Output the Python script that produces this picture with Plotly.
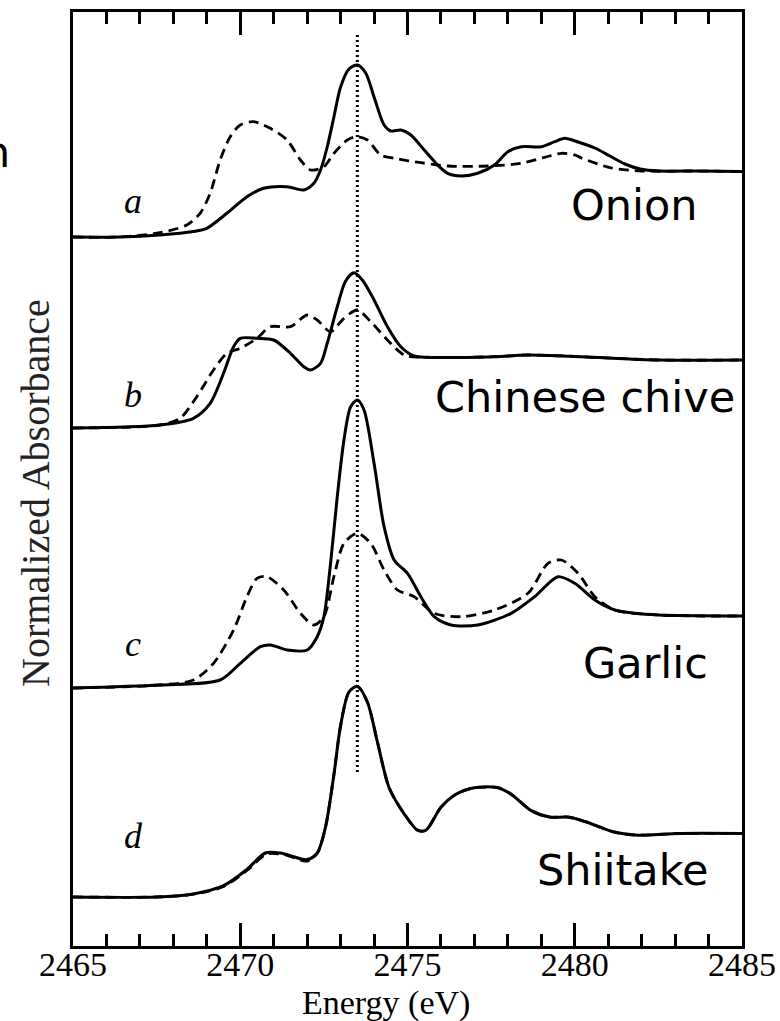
import plotly.graph_objects as go

# ---------------- data ----------------
# energies (eV) and normalized absorbance above each spectrum's own baseline
onion_E_solid = [2465.0, 2466.4, 2467.6, 2468.6, 2469.0, 2469.6, 2470.2, 2470.7, 2471.4, 2471.9,
                 2472.2, 2472.4, 2472.6, 2472.8, 2473.0, 2473.25, 2473.5, 2473.75, 2474.0,
                 2474.3, 2474.5, 2474.8, 2475.1, 2475.5, 2475.9, 2476.2, 2476.6, 2477.1, 2477.6,
                 2478.0, 2478.4, 2479.0, 2479.4, 2479.7, 2480.1, 2480.6, 2481.05, 2481.5, 2481.95,
                 2482.55, 2483.7, 2485.0]
onion_A_solid = [0.00, 0.00, 0.02, 0.055, 0.087, 0.237, 0.403, 0.487, 0.503, 0.47,
                 0.537, 0.67, 0.90, 1.20, 1.50, 1.68, 1.72, 1.64, 1.40,
                 1.12, 1.06, 1.07, 1.02, 0.87, 0.72, 0.637, 0.61, 0.637, 0.72,
                 0.853, 0.903, 0.903, 0.953, 0.987, 0.95, 0.89, 0.81, 0.73, 0.68,
                 0.66, 0.66, 0.655]
onion_E_dash = [2465.0, 2466.4, 2467.6, 2468.4, 2468.8, 2469.1, 2469.4, 2469.7, 2470.0, 2470.4,
                2470.9, 2471.4, 2471.8, 2472.1, 2472.5, 2472.8, 2473.2, 2473.5, 2473.8, 2474.2,
                2474.6, 2475.4, 2476.2, 2477.4, 2478.4, 2479.1, 2479.6, 2480.0, 2480.2, 2481.1,
                2482.0, 2483.5, 2485.0]
onion_A_dash = [0.00, 0.00, 0.043, 0.12, 0.237, 0.437, 0.77, 1.003, 1.12, 1.153,
                1.087, 0.97, 0.77, 0.67, 0.703, 0.837, 0.97, 1.003, 0.97, 0.82,
                0.787, 0.743, 0.71, 0.71, 0.737, 0.797, 0.837, 0.82, 0.79, 0.69,
                0.66, 0.66, 0.655]

chive_E_solid = [2465.0, 2467.6, 2468.6, 2469.1, 2469.5, 2469.8, 2470.0, 2470.5, 2471.0, 2471.5,
                 2471.9, 2472.1, 2472.4, 2472.6, 2472.9, 2473.15, 2473.4, 2473.65, 2474.0, 2474.4,
                 2474.8, 2475.2, 2475.6, 2477.6, 2478.6, 2480.2, 2482.5, 2485.0]
chive_A_solid = [0.00, 0.03, 0.097, 0.247, 0.547, 0.813, 0.897, 0.897, 0.88, 0.747,
                 0.613, 0.58, 0.647, 0.847, 1.213, 1.47, 1.553, 1.48, 1.28, 1.013,
                 0.813, 0.72, 0.707, 0.713, 0.73, 0.713, 0.68, 0.68]
chive_E_dash = [2465.0, 2467.6, 2468.2, 2468.7, 2469.2, 2469.6, 2470.0, 2470.5, 2470.9, 2471.5,
                2472.0, 2472.3, 2472.7, 2473.1, 2473.5, 2473.9, 2474.4, 2474.9, 2475.4, 2477.6,
                2478.6, 2480.2, 2482.5, 2485.0]
chive_A_dash = [0.00, 0.03, 0.097, 0.313, 0.58, 0.747, 0.797, 0.897, 1.013, 1.013,
                1.13, 1.08, 0.963, 1.097, 1.18, 1.063, 0.88, 0.73, 0.707, 0.713,
                0.73, 0.713, 0.68, 0.68]

garlic_E_solid = [2465.0, 2467.6, 2469.4, 2470.0, 2470.6, 2470.9, 2471.4, 2472.0, 2472.3, 2472.5,
                  2472.7, 2472.9, 2473.1, 2473.3, 2473.5, 2473.7, 2474.0, 2474.3, 2474.6, 2475.0,
                  2475.4, 2475.8, 2476.3, 2477.1, 2478.1, 2478.8, 2479.5, 2480.0, 2480.6, 2481.2,
                  2481.8, 2482.5, 2485.0]
garlic_A_solid = [0.00, 0.03, 0.08, 0.247, 0.413, 0.43, 0.38, 0.38, 0.513, 0.713,
                  1.247, 1.913, 2.48, 2.813, 2.88, 2.78, 2.247, 1.613, 1.28, 1.147,
                  0.913, 0.713, 0.63, 0.63, 0.747, 0.913, 1.113, 1.047, 0.88, 0.78,
                  0.747, 0.73, 0.72]
garlic_E_dash = [2465.0, 2467.6, 2468.6, 2469.2, 2469.8, 2470.2, 2470.5, 2470.8, 2471.3, 2471.8,
                 2472.2, 2472.5, 2472.8, 2473.1, 2473.5, 2473.9, 2474.3, 2474.7, 2475.2, 2475.8,
                 2476.6, 2477.6, 2478.6, 2479.2, 2479.6, 2480.1, 2480.6, 2481.2, 2482.5, 2485.0]
garlic_A_dash = [0.00, 0.03, 0.08, 0.247, 0.58, 0.913, 1.097, 1.113, 0.98, 0.747,
                 0.63, 0.713, 1.113, 1.447, 1.547, 1.447, 1.18, 0.98, 0.913, 0.747,
                 0.713, 0.78, 0.947, 1.247, 1.28, 1.147, 0.913, 0.78, 0.73, 0.72]

shiitake_E_solid = [2465.0, 2467.5, 2468.6, 2469.5, 2470.2, 2470.75, 2471.2, 2472.0, 2472.3, 2472.55,
                    2472.8, 2473.0, 2473.25, 2473.5, 2473.8, 2474.1, 2474.45, 2474.9, 2475.3, 2475.55,
                    2476.0, 2476.45, 2477.0, 2477.7, 2478.1, 2478.7, 2479.25, 2479.8, 2480.35, 2481.15,
                    2481.8, 2483.15, 2485.0]
shiitake_A_solid = [0.00, 0.00, 0.031, 0.113, 0.276, 0.44, 0.44, 0.374, 0.44, 0.701,
                    1.224, 1.714, 2.05, 2.106, 1.95, 1.551, 1.093, 0.832, 0.668, 0.668,
                    0.897, 1.028, 1.093, 1.093, 1.028, 0.864, 0.799, 0.799, 0.75, 0.652,
                    0.619, 0.635, 0.635]
shiitake_E_dash = [2465.0, 2467.5, 2468.6, 2469.5, 2470.2, 2470.8, 2471.3, 2472.0, 2472.3, 2472.55,
                   2472.8, 2473.0, 2473.25, 2473.5, 2473.8, 2474.1, 2474.45, 2474.9, 2475.3, 2475.55,
                   2476.0, 2476.45, 2477.0, 2477.7, 2478.1, 2478.7, 2479.25, 2479.8, 2480.35, 2481.15,
                   2481.8, 2483.15, 2485.0]
shiitake_A_dash = [0.00, 0.00, 0.028, 0.105, 0.265, 0.43, 0.425, 0.36, 0.435, 0.70,
                   1.224, 1.714, 2.05, 2.106, 1.95, 1.551, 1.093, 0.832, 0.668, 0.668,
                   0.897, 1.028, 1.093, 1.093, 1.028, 0.864, 0.799, 0.799, 0.75, 0.652,
                   0.619, 0.635, 0.635]

samples = ["Onion", "Chinese chive", "Garlic", "Shiitake"]
panel_letters = ["a", "b", "c", "d"]
offsets = [7.09, 5.18, 2.58, 0.49]          # vertical offset of each spectrum
sample_label_x = [2483.74, 2484.85, 2484.04, 2484.04]
sample_label_y = [7.41, 5.49, 2.83, 0.76]
letter_x = 2466.8
letter_y = [7.45, 5.51, 3.02, 1.10]
ref_energy = 2473.5
ref_y_range = [1.74, 9.14]

x_range = [2465, 2485]
y_range = [0, 9.34]
x_ticks = [2465, 2470, 2475, 2480, 2485]
x_title = "Energy (eV)"
y_title = "Normalized Absorbance"

solid_sets = [(onion_E_solid, onion_A_solid), (chive_E_solid, chive_A_solid),
              (garlic_E_solid, garlic_A_solid), (shiitake_E_solid, shiitake_A_solid)]
dash_sets = [(onion_E_dash, onion_A_dash), (chive_E_dash, chive_A_dash),
             (garlic_E_dash, garlic_A_dash), (shiitake_E_dash, shiitake_A_dash)]

# ---------------- figure ----------------
fig = go.Figure()
for i, name in enumerate(samples):
    E, A = dash_sets[i]
    fig.add_trace(go.Scatter(x=E, y=[a + offsets[i] for a in A], mode="lines",
                             line=dict(color="black", width=2.8, dash="10px,6px",
                                       shape="spline", smoothing=0.8),
                             name=name + " (dashed)", showlegend=False, hoverinfo="skip"))
    E, A = solid_sets[i]
    fig.add_trace(go.Scatter(x=E, y=[a + offsets[i] for a in A], mode="lines",
                             line=dict(color="black", width=3, shape="spline", smoothing=0.8),
                             name=name, showlegend=False, hoverinfo="skip"))

# dotted reference line
fig.add_trace(go.Scatter(x=[ref_energy, ref_energy], y=ref_y_range, mode="lines",
                         line=dict(color="black", width=3, dash="2px,3px"),
                         showlegend=False, hoverinfo="skip"))

annotations = []
for i, name in enumerate(samples):
    annotations.append(dict(x=sample_label_x[i], y=sample_label_y[i], xref="x", yref="y",
                            text=name, showarrow=False, xanchor="right", yanchor="middle",
                            font=dict(family="DejaVu Sans", size=43, color="black")))
    annotations.append(dict(x=letter_x, y=letter_y[i], xref="x", yref="y",
                            text="<i>" + panel_letters[i] + "</i>", showarrow=False,
                            xanchor="center", yanchor="middle",
                            font=dict(family="Liberation Serif", size=36, color="black")))
annotations.append(dict(x=-0.057, y=0.485, xref="paper", yref="paper", text=y_title,
                        textangle=-90, showarrow=False, xanchor="center", yanchor="middle",
                        font=dict(family="Liberation Serif", size=40, color="#222")))
annotations.append(dict(x=0.4675, y=-0.061, xref="paper", yref="paper", text=x_title,
                        showarrow=False, xanchor="center", yanchor="middle",
                        font=dict(family="Liberation Serif", size=34, color="black")))
annotations.append(dict(x=-0.0912, y=0.85, xref="paper", yref="paper", text="n",
                        showarrow=False, xanchor="right", yanchor="middle",
                        font=dict(family="DejaVu Sans", size=43, color="black")))

fig.update_layout(
    template="none",
    width=780, height=1021,
    margin=dict(l=73, r=38, t=12, b=75, pad=0),
    paper_bgcolor="white", plot_bgcolor="white",
    annotations=annotations,
    xaxis=dict(range=x_range, tickmode="array", tickvals=x_ticks, ticks="inside",
               ticklen=23, tickwidth=3, tickcolor="black", showline=True,
               linecolor="black", linewidth=3, mirror="ticks", showgrid=False,
               zeroline=False, automargin=False, ticklabelstandoff=-14,
               tickfont=dict(family="Liberation Serif", size=34, color="black"),
               minor=dict(tickmode="linear", tick0=2465, dtick=1, ticks="inside",
                          ticklen=12, tickwidth=3, tickcolor="black", showgrid=False)),
    yaxis=dict(range=y_range, showticklabels=False, ticks="", showline=True,
               linecolor="black", linewidth=3, mirror=True, showgrid=False,
               zeroline=False, automargin=False),
)

fig.write_html("out.html", config={"displayModeBar": False},
               post_script="document.body.style.margin='0px';document.body.style.overflow='hidden';")
